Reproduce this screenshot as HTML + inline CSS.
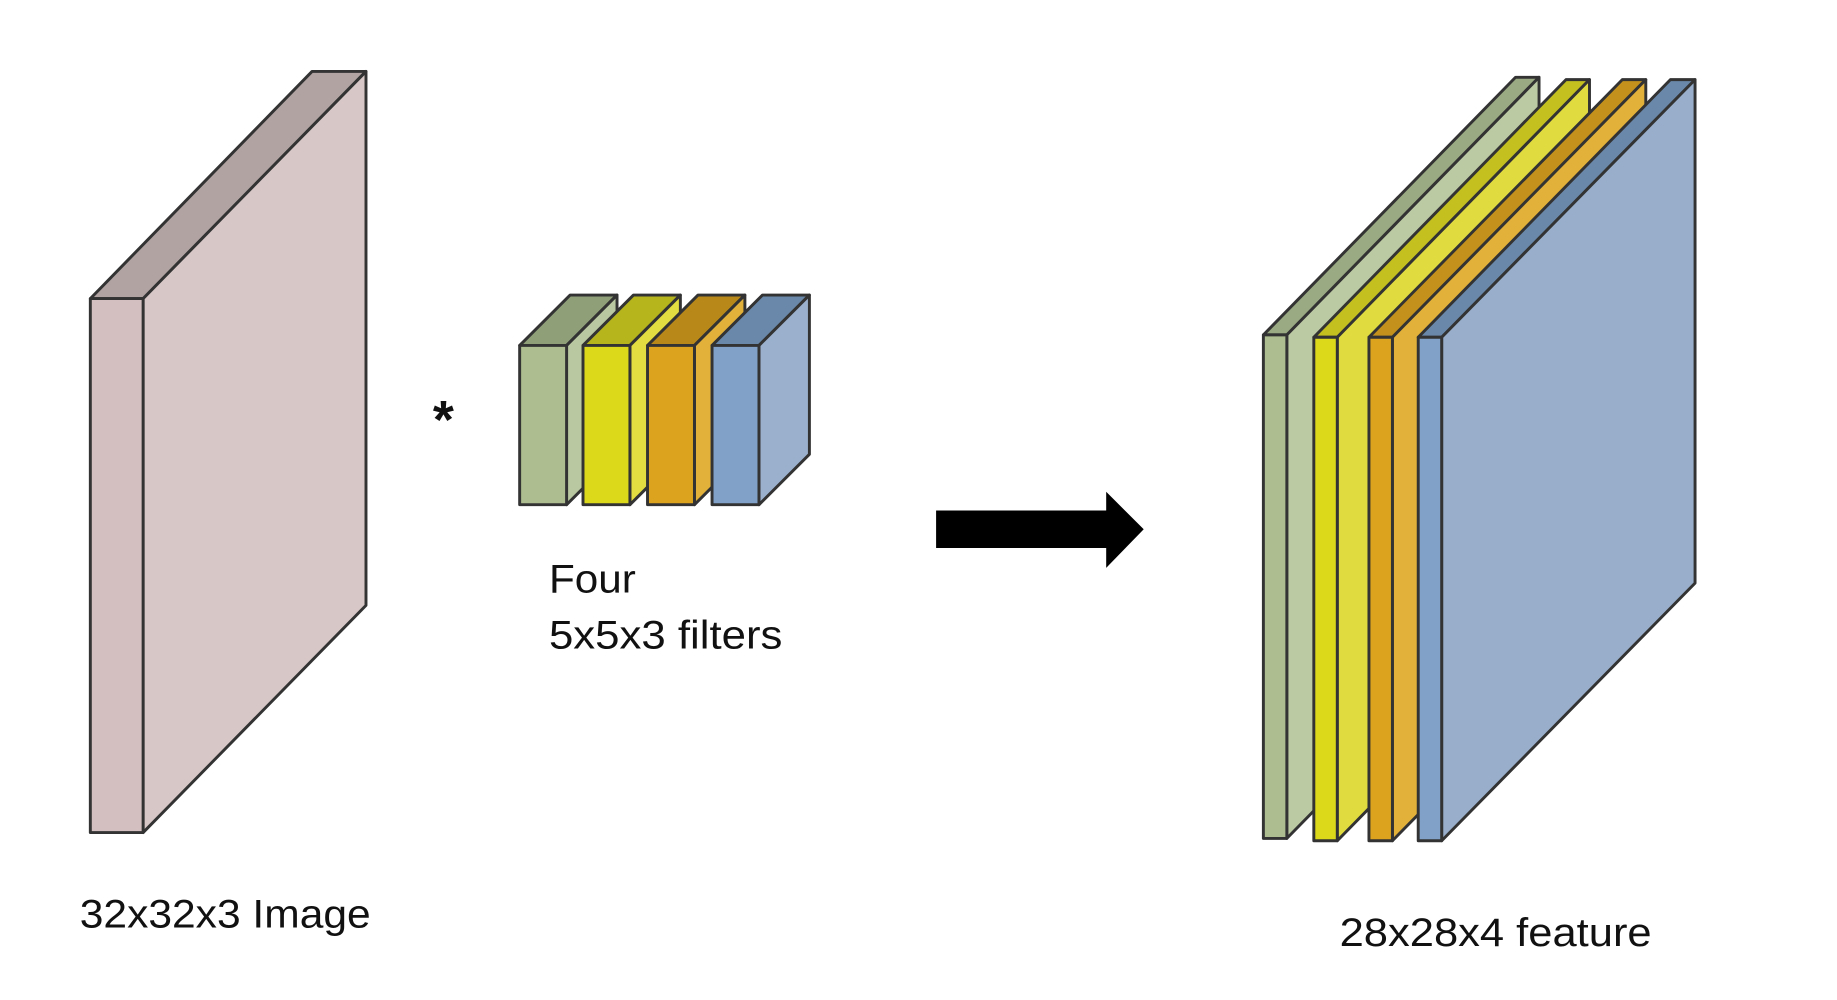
<!DOCTYPE html>
<html><head><meta charset="utf-8"><style>
html,body{margin:0;padding:0;background:#fff;}
svg{display:block;}
text{font-family:"Liberation Sans",sans-serif;fill:#111;}
</style></head><body>
<svg width="1837" height="1000" viewBox="0 0 1566 854" preserveAspectRatio="none" xmlns="http://www.w3.org/2000/svg">
<g stroke="#333" stroke-width="2.5" stroke-linejoin="round">
<polygon points="77,255 266,61 312,61 122,255" fill="#b0a3a2"/>
<polygon points="122,255 312,61 312,517 122,711" fill="#d7c8c7"/>
<rect x="77" y="255" width="45" height="456" fill="#d3bfc0"/>
<polygon points="443,295 486,252 526,252 483,295" fill="#8f9f78"/>
<polygon points="483,295 526,252 526,388 483,431" fill="#b9c8a0"/>
<rect x="443" y="295" width="40" height="136" fill="#adbd8f"/>
<polygon points="497,295 540,252 580,252 537,295" fill="#b7b51c"/>
<polygon points="537,295 580,252 580,388 537,431" fill="#e2dd40"/>
<rect x="497" y="295" width="40" height="136" fill="#dcd81a"/>
<polygon points="552,295 595,252 635,252 592,295" fill="#b88818"/>
<polygon points="592,295 635,252 635,388 592,431" fill="#e2b13a"/>
<rect x="552" y="295" width="40" height="136" fill="#dca41e"/>
<polygon points="607,295 650,252 690,252 647,295" fill="#6a88aa"/>
<polygon points="647,295 690,252 690,388 647,431" fill="#9ab0cc"/>
<rect x="607" y="295" width="40" height="136" fill="#82a1c8"/>
<polygon points="1077,286 1292,66 1312,66 1097,286" fill="#9aaa82"/>
<polygon points="1097,286 1312,66 1312,496 1097,716" fill="#bccaa4"/>
<rect x="1077" y="286" width="20" height="430" fill="#adbd8f"/>
<polygon points="1120,288 1335,68 1355,68 1140,288" fill="#c3c020"/>
<polygon points="1140,288 1355,68 1355,498 1140,718" fill="#e0dc40"/>
<rect x="1120" y="288" width="20" height="430" fill="#dcd81a"/>
<polygon points="1167,288 1383,68 1403,68 1187,288" fill="#c4921c"/>
<polygon points="1187,288 1403,68 1403,498 1187,718" fill="#e2b13a"/>
<rect x="1167" y="288" width="20" height="430" fill="#dca41e"/>
<polygon points="1209,288 1424,68 1445,68 1229,288" fill="#6a88aa"/>
<polygon points="1229,288 1445,68 1445,498 1229,718" fill="#98aeca"/>
<rect x="1209" y="288" width="20" height="430" fill="#82a1c8"/>
</g>
<polygon points="798,436 943,436 943,420 975,452 943,485 943,468 798,468" fill="#000"/>
<text x="369" y="374" font-size="46" font-weight="bold">*</text>
<text x="468" y="506" font-size="34" textLength="74" lengthAdjust="spacingAndGlyphs">Four</text>
<text x="468" y="554" font-size="34" textLength="199" lengthAdjust="spacingAndGlyphs">5x5x3 filters</text>
<text x="68" y="792" font-size="34" textLength="248" lengthAdjust="spacingAndGlyphs">32x32x3 Image</text>
<text x="1142" y="808" font-size="34" textLength="266" lengthAdjust="spacingAndGlyphs">28x28x4 feature</text>
</svg>
</body></html>
